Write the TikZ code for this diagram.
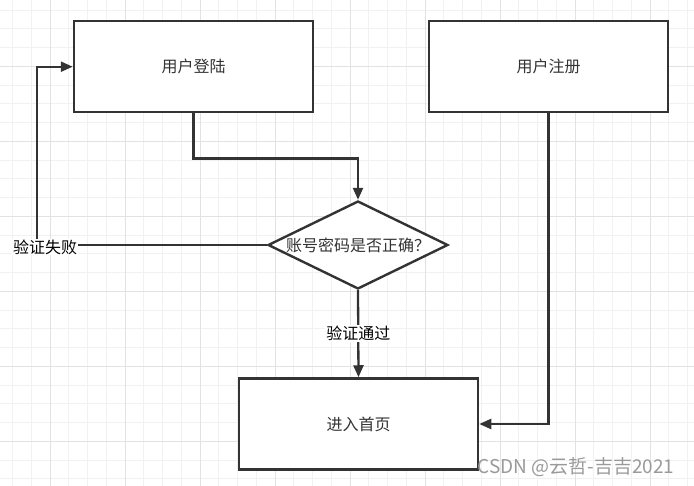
\documentclass[tikz,border=0pt]{standalone}
\usepackage{fontspec}
\newfontfamily\cjk{Noto Sans CJK SC}
\usetikzlibrary{shapes.geometric,arrows.meta}

\definecolor{linegray}{HTML}{333333}
\definecolor{minorgrid}{HTML}{F1F1F1}
\definecolor{majorgrid}{HTML}{E2E2E2}
\definecolor{markgray}{HTML}{9A9A9A}

\tikzset{
  flowbox/.style={draw=linegray, line width=2.5pt, fill=white, minimum width=239pt,
    minimum height=91pt, inner sep=0pt, font=\cjk\fontsize{16}{18}\selectfont, text=linegray},
  decision/.style={diamond, aspect=2.05, draw=linegray, line width=2.4pt, fill=white,
    minimum width=180pt, minimum height=88pt, inner sep=0pt,
    font=\cjk\fontsize{16}{18}\selectfont, text=linegray},
  flow/.style={draw=linegray, line width=2.3pt, -{Triangle[length=12pt,width=10pt]}},
  edgelabel/.style={fill=white, inner sep=1pt, font=\cjk\fontsize{16}{18}\selectfont, text=black}
}

\begin{document}
\begin{tikzpicture}[x=1pt, y=-1pt]
            \useasboundingbox (0,0) rectangle (694,486);
            \fill[white] (0,0) rectangle (694,486);

            % Grid
            \foreach \i in {0,...,36}
                \draw[minorgrid, line width=1pt] ({12.5+18.75*\i},0) -- ++(0,486);
            \foreach \j in {0,...,25}
                \draw[minorgrid, line width=1pt] (0,{10.05+18.75*\j}) -- ++(694,0);
            \foreach \i in {0,...,8}
                \draw[majorgrid, line width=1pt] ({50+75*\i},0) -- ++(0,486);
            \foreach \j in {0,...,5}
                \draw[majorgrid, line width=1pt] (0,{66.3+75*\j}) -- ++(694,0);

            % Nodes
            \node[flowbox] (login) at (193.5,66.7) {用户登陆};
            \node[flowbox] (reg) at (548.5,66.7) {用户注册};
            \node[decision] (check) at (358,245) {账号密码是否正确？};
            \node[flowbox] (home) at (358.5,424) {进入首页};
            \coordinate (failbend) at (37,245);

            % Connectors
            \draw[flow] (login.south) -- ++(0,45) -| (check.north);
            \draw[flow] (check.west) -- (failbend) |- (login.west);
            \node[edgelabel] (fail) at (45,247) {验证失败};
            \draw[flow] (check.south) -- (home.north)
                node[edgelabel, midway] (pass) {验证通过};
            \draw[flow] (reg.south) |- (home.east);

            % Watermark
            \node[text=markgray, font=\cjk\fontsize{19}{21}\selectfont] (mark) at (576,467) {CSDN @云哲-吉吉2021};
        \end{tikzpicture}
\end{document}
